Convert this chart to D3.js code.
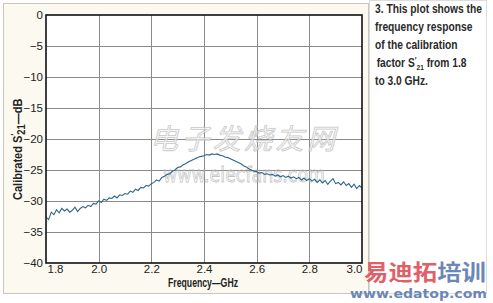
<!DOCTYPE html>
<html>
<head>
<meta charset="utf-8">
<script src="https://cdn.jsdelivr.net/npm/d3@7"></script>
<style>
  body { margin: 0; background: #fff; }
  svg { display: block; }
  .tick text { font-family: "Liberation Sans", "Open Sans", sans-serif; font-size: 11.5px; fill: #222; }
</style>
</head>
<body>
<svg></svg>
<script>
const width = 493,
    height = 303;

// frequency grid, GHz (1.80 .. 3.00, step 0.01)
const freqStart = 1.8,
    freqStep = 0.01;

// calibrated S'21, dB, one value per frequency step
const s21 = [
    -32.6, -33.0, -31.8, -32.2, -31.4, -31.9, -31.2, -31.6, -31.3, -31.8,
    -31.5, -31.0, -31.7, -31.2, -30.9, -31.1, -30.7, -30.9, -30.4, -30.5,
    -30.0, -30.2, -29.7, -29.9, -29.5, -29.6, -29.2, -29.5, -29.0, -29.1,
    -28.8, -28.9, -28.4, -28.6, -28.1, -28.3, -27.8, -27.9, -27.5, -27.6,
    -27.2, -27.0, -26.6, -26.8, -26.2, -26.0, -25.7, -25.6, -25.2, -25.0,
    -24.6, -24.5, -24.2, -24.0, -23.7, -23.5, -23.3, -23.1, -22.9, -22.8,
    -22.7, -22.5, -22.6, -22.4, -22.5, -22.4, -22.6, -22.7, -22.9, -23.0,
    -23.2, -23.4, -23.6, -23.8, -24.0, -24.3, -24.5, -24.8, -25.0, -25.2,
    -25.3, -25.5, -25.4, -25.7, -25.6, -25.8, -25.7, -26.0, -25.8, -26.1,
    -25.9, -26.2, -26.0, -26.3, -26.1, -26.4, -26.2, -26.6, -26.3, -26.7,
    -26.4, -26.8, -26.5, -27.0, -26.6, -27.1, -26.7, -27.3, -26.8, -26.4,
    -27.2, -27.0, -27.4, -26.9, -27.5, -27.2, -27.8, -27.3, -28.0, -27.5,
    -27.9
];

const xTicks = [1.8, 2.0, 2.2, 2.4, 2.6, 2.8, 3.0];
const yTicks = [0, -5, -10, -15, -20, -25, -30, -35, -40];

const caption = [
    "3. This plot shows the",
    "frequency response",
    "of the calibration",
    null, // factor S'21 line, built with tspans
    "to 3.0 GHz."
];

const values = s21.map((v, i) => [freqStart + i * freqStep, v]);

const plot = { left: 46, top: 15, right: 362, bottom: 263 };

const svg = d3.select("svg").attr("width", width).attr("height", height);

// outer chart panel
svg.append("rect")
    .attr("x", 3.5).attr("y", 3.5)
    .attr("width", 365).attr("height", 290)
    .attr("fill", "#fcfaf0")
    .attr("stroke", "#c9c6bc");

// caption panel
svg.append("rect")
    .attr("x", 369.5).attr("y", 0.5)
    .attr("width", 117).attr("height", 293)
    .attr("fill", "#fff")
    .attr("stroke", "#dcdcdc");

const xScale = d3.scaleLinear().domain([1.8, 3.0]).range([plot.left, plot.right]);
const yScale = d3.scaleLinear().domain([-40, 0]).range([plot.bottom, plot.top]);

svg.append("rect")
    .attr("x", plot.left).attr("y", plot.top)
    .attr("width", plot.right - plot.left)
    .attr("height", plot.bottom - plot.top)
    .attr("fill", "#fff");

// grid
const grid = svg.append("g").attr("stroke", "#8a8a8a").attr("stroke-width", 1);
grid.selectAll("line.v")
    .data(xTicks.slice(1, -1))
    .enter().append("line")
    .attr("x1", (d) => Math.round(xScale(d)) + 0.5)
    .attr("x2", (d) => Math.round(xScale(d)) + 0.5)
    .attr("y1", plot.top).attr("y2", plot.bottom);
grid.selectAll("line.h")
    .data(yTicks.slice(1, -1))
    .enter().append("line")
    .attr("y1", (d) => Math.round(yScale(d)) + 0.5)
    .attr("y2", (d) => Math.round(yScale(d)) + 0.5)
    .attr("x1", plot.left).attr("x2", plot.right);

// watermark (site marks on the picture)
const wm = svg.append("g").attr("opacity", 0.75);
wm.append("text")
    .attr("x", 150).attr("y", 149)
    .attr("font-family", "Noto Sans CJK SC")
    .attr("font-size", 28)
    .attr("font-style", "italic")
    .attr("textLength", 185)
    .attr("lengthAdjust", "spacing")
    .attr("fill", "#f4f4f4")
    .attr("stroke", "#b8b8b8")
    .attr("stroke-width", 0.8)
    .text("电子发烧友网");
wm.append("text")
    .attr("x", 163).attr("y", 182)
    .attr("font-family", "DejaVu Sans")
    .attr("font-size", 21)
    .attr("textLength", 162)
    .attr("lengthAdjust", "spacingAndGlyphs")
    .attr("fill", "none")
    .attr("stroke", "#b0b0b0")
    .attr("stroke-width", 0.8)
    .text("www.elecfans.com");

// data line
const line = d3.line()
    .x((d) => xScale(d[0]))
    .y((d) => yScale(d[1]));
svg.append("path")
    .datum(values)
    .attr("fill", "none")
    .attr("stroke", "#2c6684")
    .attr("stroke-width", 1.1)
    .attr("d", line);

// plot border
svg.append("rect")
    .attr("x", plot.left).attr("y", plot.top)
    .attr("width", plot.right - plot.left)
    .attr("height", plot.bottom - plot.top)
    .attr("fill", "none")
    .attr("stroke", "#111")
    .attr("stroke-width", 1.6);

// axes
const xAxis = d3.axisBottom(xScale)
    .tickValues(xTicks)
    .tickSize(0)
    .tickPadding(2)
    .tickFormat(d3.format(".1f"));
const gx = svg.append("g")
    .attr("transform", "translate(0," + plot.bottom + ")")
    .call(xAxis);
gx.select(".domain").remove();
gx.selectAll(".tick text")
    .attr("text-anchor", (d, i) => (i === 0 ? "start" : i === xTicks.length - 1 ? "end" : "middle"))
    .attr("dx", (d, i) => (i === 0 ? 1 : 0));

const yAxis = d3.axisLeft(yScale)
    .tickValues(yTicks)
    .tickSize(0)
    .tickPadding(3)
    .tickFormat((d) => (d < 0 ? "\u2212" + Math.abs(d) : d));
const gy = svg.append("g")
    .attr("transform", "translate(" + plot.left + ",0)")
    .call(yAxis);
gy.select(".domain").remove();

// axis titles
svg.append("text")
    .attr("x", 168).attr("y", 287)
    .attr("font-family", "Liberation Sans, sans-serif")
    .attr("font-size", 12)
    .attr("font-weight", "bold")
    .attr("textLength", 70)
    .attr("lengthAdjust", "spacingAndGlyphs")
    .attr("fill", "#222")
    .text("Frequency\u2014GHz");

const yt = svg.append("g")
    .attr("transform", "translate(22,200) rotate(-90) scale(0.85,1)")
    .append("text")
    .attr("font-family", "Liberation Sans, sans-serif")
    .attr("font-size", 13)
    .attr("font-weight", "bold")
    .attr("fill", "#222");
yt.append("tspan").text("Calibrated S");
yt.append("tspan").attr("dy", -5).attr("font-size", 9).text("\u2032");
yt.append("tspan").attr("dy", 8).attr("dx", -1).attr("font-size", 11).text("21");
yt.append("tspan").attr("dy", -3).text("\u2014dB");

// caption
const cap = svg.append("g")
    .attr("transform", "translate(375,0) scale(0.82,1)")
    .attr("font-family", "Liberation Sans, sans-serif")
    .attr("font-size", 12.5)
    .attr("font-weight", "bold")
    .attr("fill", "#2a2a2a");
caption.forEach((t, i) => {
    const y = 13 + i * 18;
    if (t !== null) {
        cap.append("text").attr("x", 0).attr("y", y).text(t);
    } else {
        const tx = cap.append("text").attr("x", 2).attr("y", y);
        tx.append("tspan").text("factor S");
        tx.append("tspan").attr("dy", -4).attr("font-size", 9).text("\u2032");
        tx.append("tspan").attr("dy", 7).attr("font-size", 8).text("21");
        tx.append("tspan").attr("dy", -3).text(" from 1.8");
    }
});

// bottom-right site logo
const logo = svg.append("g").attr("font-family", "Noto Sans CJK SC").attr("font-weight", "bold");
const lt = logo.append("text")
    .attr("x", 364).attr("y", 280)
    .attr("font-size", 22)
    .attr("textLength", 122)
    .attr("lengthAdjust", "spacingAndGlyphs");
lt.append("tspan").attr("fill", "#e06068").text("易迪拓");
lt.append("tspan").attr("fill", "#6d86b8").text("培训");
logo.append("text")
    .attr("x", 350).attr("y", 298)
    .attr("font-family", "DejaVu Sans")
    .attr("font-size", 13)
    .attr("textLength", 137)
    .attr("lengthAdjust", "spacingAndGlyphs")
    .attr("fill", "#6d86b8")
    .text("www.edatop.com");
</script>
</body>
</html>
